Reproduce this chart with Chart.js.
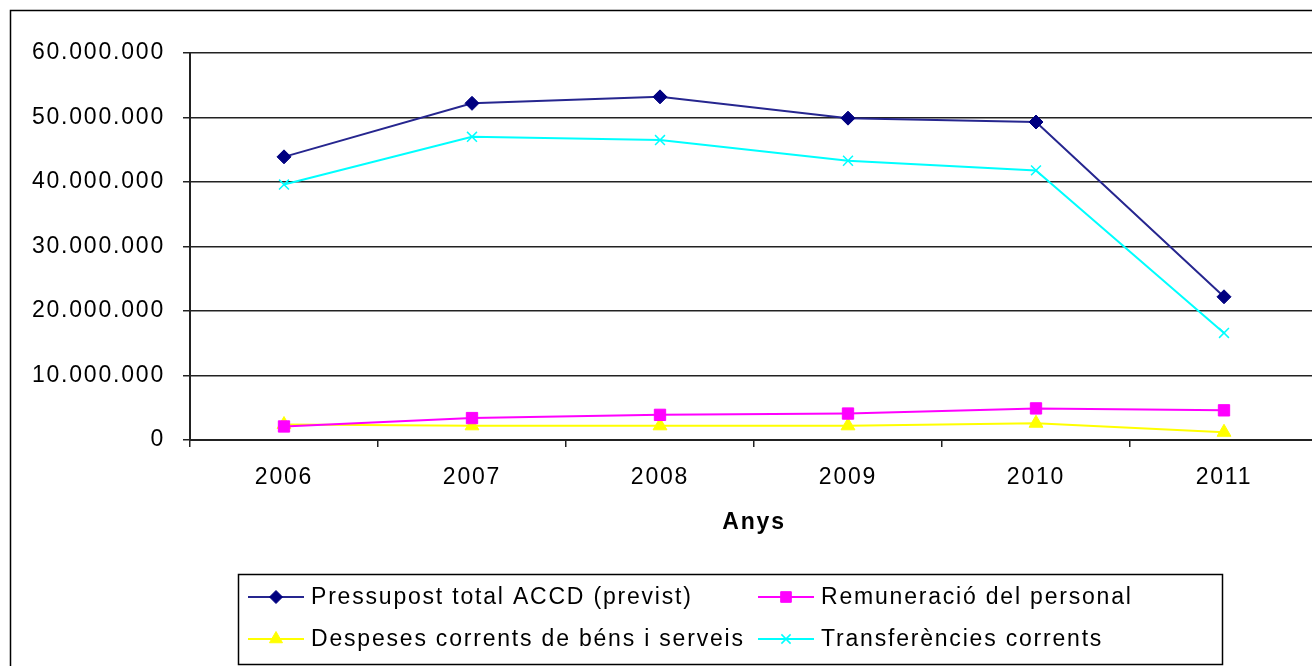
<!DOCTYPE html>
<html>
<head>
<meta charset="utf-8">
<script src="https://cdn.jsdelivr.net/npm/chart.js@4.4.1/dist/chart.umd.min.js"></script>
<style>
    html, body { margin: 0; padding: 0; background: #ffffff; overflow: hidden; }
    #wrap { width: 1312px; height: 666px; position: relative; overflow: hidden; }
</style>
</head>
<body>
<div id="wrap"><canvas id="chart" width="1327" height="666"></canvas></div>
<script>
// Dades (llegides del gràfic)
const years = ['2006', '2007', '2008', '2009', '2010', '2011'];
const pressupostTotal = [43900000, 52200000, 53200000, 49900000, 49300000, 22200000];
const remuneracio = [2100000, 3400000, 3900000, 4100000, 4900000, 4600000];
const despeses = [2400000, 2200000, 2200000, 2200000, 2600000, 1200000];
const transferencies = [39600000, 47000000, 46500000, 43300000, 41800000, 16600000];
const yTicks = [0, 10000000, 20000000, 30000000, 40000000, 50000000, 60000000];

const FONT = '"Liberation Sans", Arial, sans-serif';
const SPACING = '1.8px';
const FONT_SIZE = 23;

function formatNum(v) {
    return String(v).replace(/\B(?=(\d{3})+(?!\d))/g, '.');
}

// Espaiat de lletres com l'Excel antic
const spacingPlugin = {
    id: 'spacing',
    beforeLayout(chart) { chart.ctx.letterSpacing = SPACING; },
    beforeDraw(chart) { chart.ctx.letterSpacing = SPACING; }
};

// Marc exterior + llegenda dibuixada a mà
const frameLegendPlugin = {
    id: 'frameLegend',
    afterDraw(chart) {
        const ctx = chart.ctx;
        ctx.save();
        ctx.strokeStyle = '#000000';
        ctx.lineWidth = 1.5;
        ctx.strokeRect(10.5, 10.5, 1400, 700);

        // caixa de la llegenda
        ctx.strokeRect(238.5, 574.5, 984, 90);

        const items = [
            { ds: 0, x: 248, y: 597 },
            { ds: 1, x: 758, y: 597 },
            { ds: 2, x: 248, y: 639 },
            { ds: 3, x: 758, y: 639 }
        ];
        ctx.font = FONT_SIZE + 'px ' + FONT;
        ctx.letterSpacing = SPACING;
        ctx.textBaseline = 'middle';
        ctx.textAlign = 'left';
        items.forEach(it => {
            const ds = chart.data.datasets[it.ds];
            ctx.strokeStyle = ds.borderColor;
            ctx.lineWidth = 2;
            ctx.beginPath();
            ctx.moveTo(it.x, it.y);
            ctx.lineTo(it.x + 56, it.y);
            ctx.stroke();
            ctx.fillStyle = ds.pointBackgroundColor;
            ctx.strokeStyle = ds.pointBorderColor;
            ctx.lineWidth = ds.pointBorderWidth;
            Chart.helpers.drawPoint(ctx, {
                pointStyle: ds.pointStyle,
                radius: ds.pointRadius - 0.5,
                borderWidth: ds.pointBorderWidth
            }, it.x + 28, it.y);
            ctx.fillStyle = '#000000';
            ctx.fillText(ds.label, it.x + 63, it.y + 1);
        });
        ctx.restore();
    }
};

const ctx = document.getElementById('chart').getContext('2d');
new Chart(ctx, {
    type: 'line',
    data: {
        labels: years,
        datasets: [
            {
                label: 'Pressupost total ACCD (previst)',
                data: pressupostTotal,
                borderColor: '#26268F',
                borderWidth: 2,
                pointStyle: 'rectRot',
                pointRadius: 7,
                pointBackgroundColor: '#000080',
                pointBorderColor: '#000080',
                pointBorderWidth: 1
            },
            {
                label: 'Remuneració del personal',
                data: remuneracio,
                borderColor: '#FF00FF',
                borderWidth: 2,
                pointStyle: 'rect',
                pointRadius: 8,
                pointBackgroundColor: '#FF00FF',
                pointBorderColor: '#FF00FF',
                pointBorderWidth: 1
            },
            {
                label: 'Despeses corrents de béns i serveis',
                data: despeses,
                borderColor: '#FFFF00',
                borderWidth: 2,
                pointStyle: 'triangle',
                pointRadius: 8,
                pointBackgroundColor: '#FFFF00',
                pointBorderColor: '#FFFF00',
                pointBorderWidth: 1
            },
            {
                label: 'Transferències corrents',
                data: transferencies,
                borderColor: '#00FFFF',
                borderWidth: 2,
                pointStyle: 'crossRot',
                pointRadius: 7,
                pointBackgroundColor: '#00FFFF',
                pointBorderColor: '#00FFFF',
                pointBorderWidth: 1.5
            }
        ]
    },
    options: {
        responsive: false,
        animation: false,
        layout: { padding: { left: 0, top: 53, right: 2, bottom: 130 } },
        plugins: {
            legend: { display: false },
            tooltip: { enabled: false }
        },
        scales: {
            x: {
                offset: true,
                grid: {
                    offset: true,
                    drawOnChartArea: false,
                    drawTicks: true,
                    tickLength: 7,
                    color: '#222222',
                    lineWidth: 1.5
                },
                border: { color: '#222222', width: 2 },
                ticks: {
                    color: '#000000',
                    font: { family: FONT, size: FONT_SIZE },
                    padding: 17,
                    maxRotation: 0
                },
                title: {
                    display: true,
                    text: 'Anys',
                    color: '#000000',
                    font: { family: FONT, size: FONT_SIZE, weight: 'bold' },
                    padding: { top: 0, bottom: 0 }
                },
                afterFit(scale) {
                    scale.height = 96;
                    scale.paddingLeft = 0;
                    scale.paddingRight = 0;
                }
            },
            y: {
                min: 0,
                max: 60000000,
                afterBuildTicks(scale) {
                    scale.ticks = yTicks.map(v => ({ value: v }));
                },
                grid: {
                    color: '#222222',
                    lineWidth: 1.5,
                    tickLength: 7
                },
                border: { color: '#222222', width: 2 },
                ticks: {
                    color: '#000000',
                    font: { family: FONT, size: FONT_SIZE },
                    padding: 18,
                    callback: v => formatNum(v)
                },
                afterFit(scale) { scale.width = 190; }
            }
        }
    },
    plugins: [spacingPlugin, frameLegendPlugin]
});
</script>
</body>
</html>
